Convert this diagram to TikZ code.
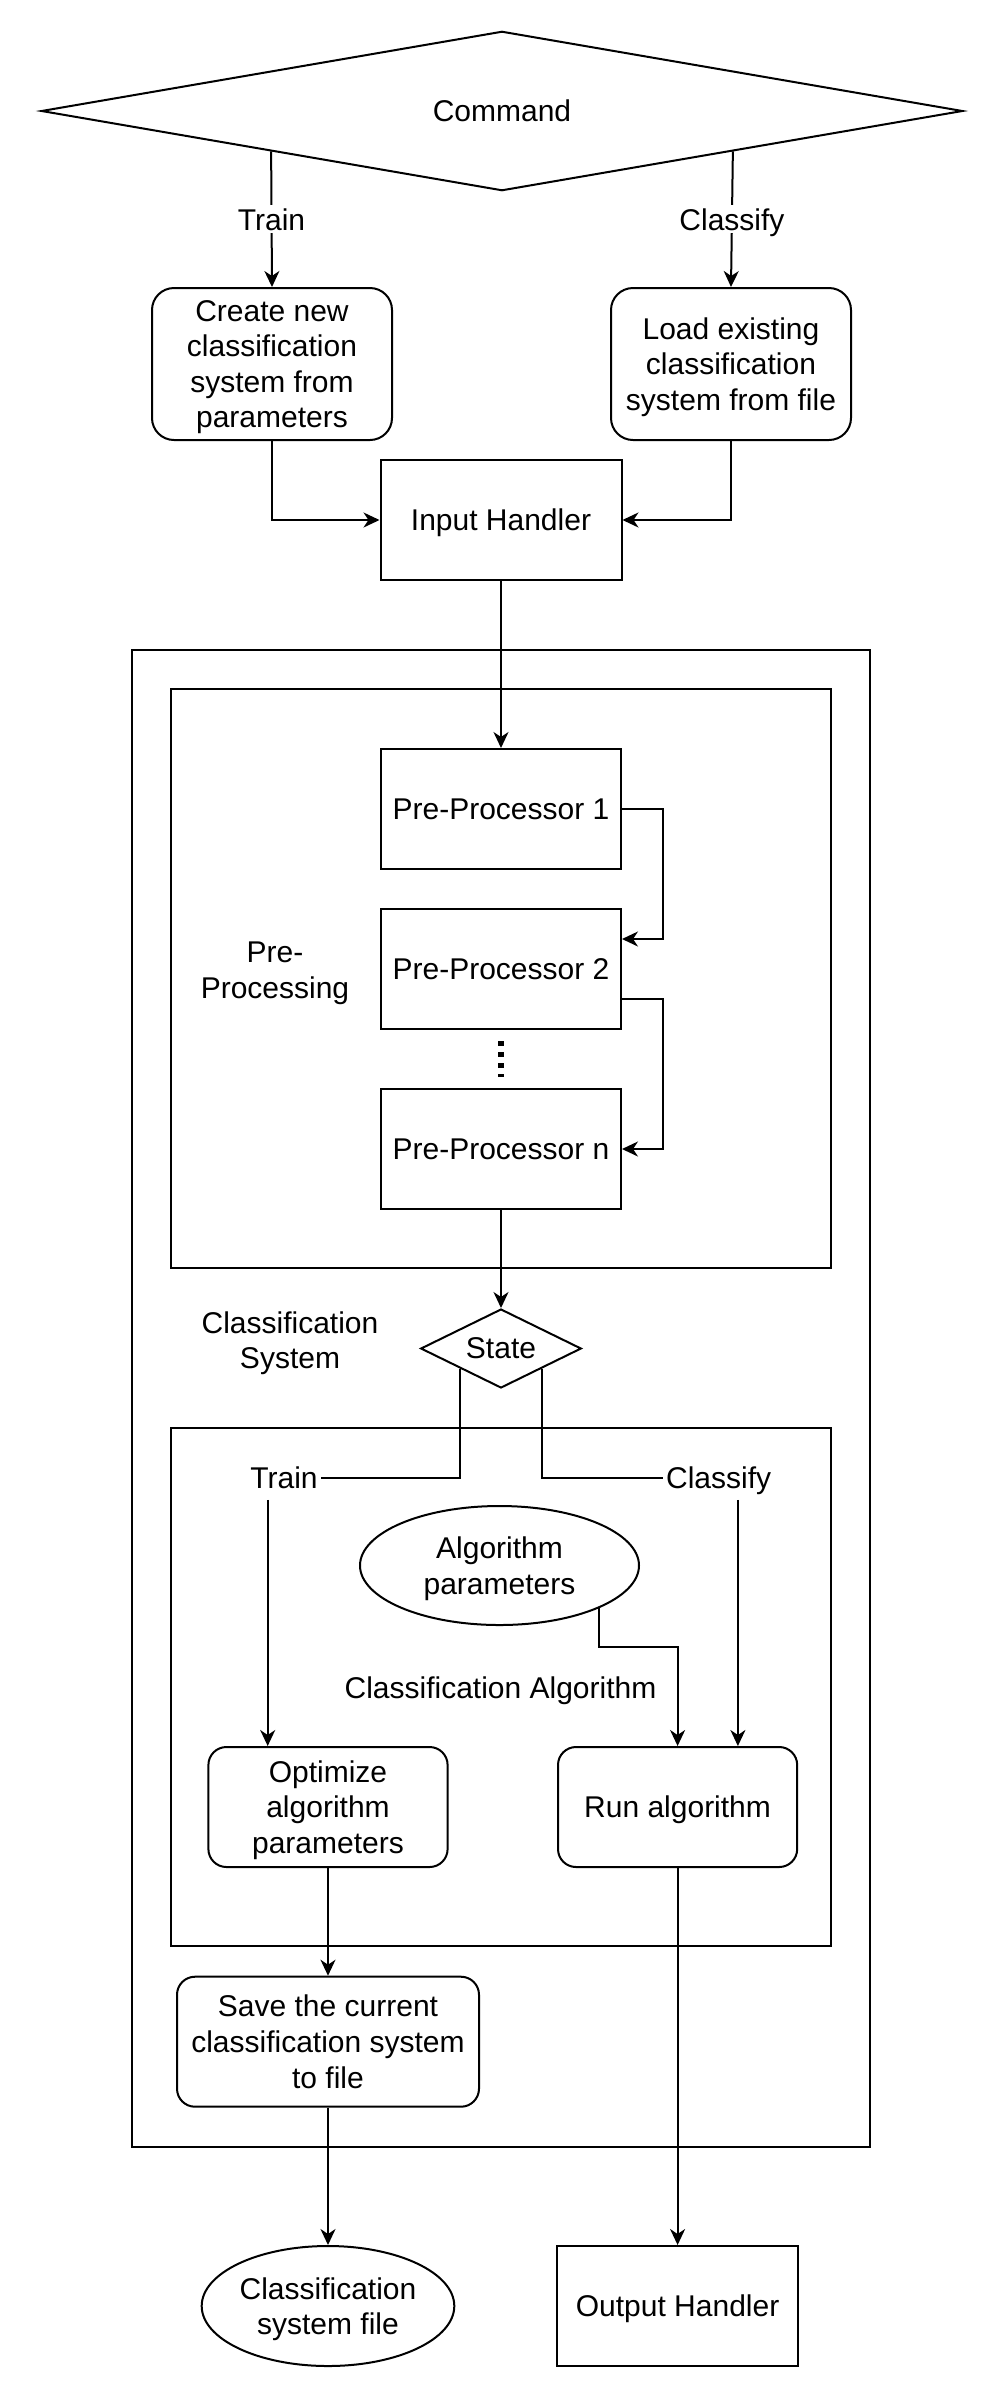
\documentclass[tikz,border=0pt]{standalone}
\usepackage{fontspec}
\setmainfont{Liberation Sans}
\usetikzlibrary{shapes.geometric,arrows.meta,calc}
\begin{document}
\begin{tikzpicture}[x=0.5pt,y=-0.5pt,
  font=\fontsize{15pt}{17.8pt}\selectfont, line width=1pt,
  every node/.style={text depth=0pt},
  box/.style={draw, inner sep=0pt, align=center},
  rbox/.style={box, rounded corners=9pt},
  arr/.style={-{Stealth[length=8pt,width=7.5pt,inset=2.5pt]}},
  lbl/.style={fill=white, inner sep=1.5pt},
  txt/.style={align=center, inner sep=0pt}]
\useasboundingbox (0,0) rectangle (1000,2400);

% containers
\node[box, minimum width=369.2pt, minimum height=748.35pt] (sys) at (501,1398.3) {};
\node[box, minimum width=329.6pt, minimum height=289.5pt] (pre) at (501,978.5) {};
\node[box, minimum width=329.6pt, minimum height=259pt] (algbox) at (501,1687) {};

% top
\node[box, shape=diamond, aspect=5.78, minimum width=460.75pt, minimum height=79.7pt] (cmd) at (502,111) {Command};
\node[rbox, rounded corners=11pt, minimum width=120pt, minimum height=76pt] (create) at (272,364) {Create new\\classification\\system from\\parameters};
\node[rbox, rounded corners=11pt, minimum width=120pt, minimum height=76pt] (load) at (731,364) {Load existing\\classification\\system from file};
\node[box, minimum width=120.5pt, minimum height=60pt] (inh) at (501,520) {Input Handler};

% pre-processing
\node[box, minimum width=120pt, minimum height=60pt] (pp1) at (501,809) {Pre-Processor 1};
\node[box, minimum width=120pt, minimum height=60pt] (pp2) at (501,969) {Pre-Processor 2};
\node[box, minimum width=120pt, minimum height=60pt] (ppn) at (501,1149) {Pre-Processor n};
\node[txt] (prelbl) at (275,970) {Pre-\\Processing};

% state
\node[box, shape=diamond, aspect=2.03, minimum width=80.3pt, minimum height=39.5pt] (state) at (501,1348.5) {State};
\node[txt] (syslbl) at (290,1340) {Classification\\System};

% classification algorithm
\node[txt, inner sep=1pt] (trn) at (284,1478) {Train};
\node[txt, inner sep=1pt] (clf) at (718.6,1478) {Classify};
\node[draw, ellipse, inner sep=0pt, minimum width=139.5pt, minimum height=59.5pt, align=center] (alg) at (499.5,1565.5) {Algorithm\\parameters};
\node[txt] (alglbl) at (500.5,1688) {Classification Algorithm};
\node[rbox, minimum width=119.6pt, minimum height=60pt] (opt) at (328,1807) {Optimize\\algorithm\\parameters};
\node[rbox, minimum width=119.6pt, minimum height=60pt] (run) at (677.6,1807) {Run algorithm};

% bottom
\node[rbox, rounded corners=9pt, minimum width=151pt, minimum height=65pt] (save) at (328,2041.7) {Save the current\\classification system\\to file};
\node[draw, ellipse, inner sep=0pt, minimum width=126.3pt, minimum height=60pt, align=center] (csf) at (328,2306) {Classification\\system file};
\node[box, minimum width=120.2pt, minimum height=60pt] (out) at (677.6,2306) {Output Handler};

% connectors
\draw[arr] ($(cmd.west)!0.5!(cmd.south)$) -- node[lbl]{Train} (create.north);
\draw[arr] ($(cmd.east)!0.5!(cmd.south)$) -- node[lbl]{Classify} (load.north);
\draw[arr] (create.south) |- (inh.west);
\draw[arr] (load.south) |- (inh.east);
\draw[arr] (inh.south) -- (pp1.north);
\draw[arr] (pp1.east) -- ++(40.7,0) |- ([yshift=15pt]pp2.east);
\draw[arr] ([yshift=-15pt]pp2.east) -- ++(40.7,0) |- (ppn.east);
\draw[line width=3pt, dash pattern=on 2.5pt off 3pt] ($(pp2.south)+(0,11)$) -- ($(ppn.north)+(0,-11)$);
\draw[arr] (ppn.south) -- (state.north);
\draw ($(state.west)!0.5!(state.south)$) |- (trn.east);
\draw ($(state.east)!0.5!(state.south)$) |- (clf.west);
\coordinate (optin) at ($(opt.north west)!0.25!(opt.north east)$);
\coordinate (runin) at ($(run.north west)!0.75!(run.north east)$);
\draw[arr] ($(trn.south -| optin)+(0,8)$) -- (optin);
\draw[arr] ($(clf.south -| runin)+(0,8)$) -- (runin);
\draw[arr] (alg.south east) -- ++(0,39) -| (run.north);
\draw[arr] (opt.south) -- (save.north);
\draw[arr] (save.south) -- (csf.north);
\draw[arr] (run.south) -- (out.north);
\end{tikzpicture}
\end{document}
